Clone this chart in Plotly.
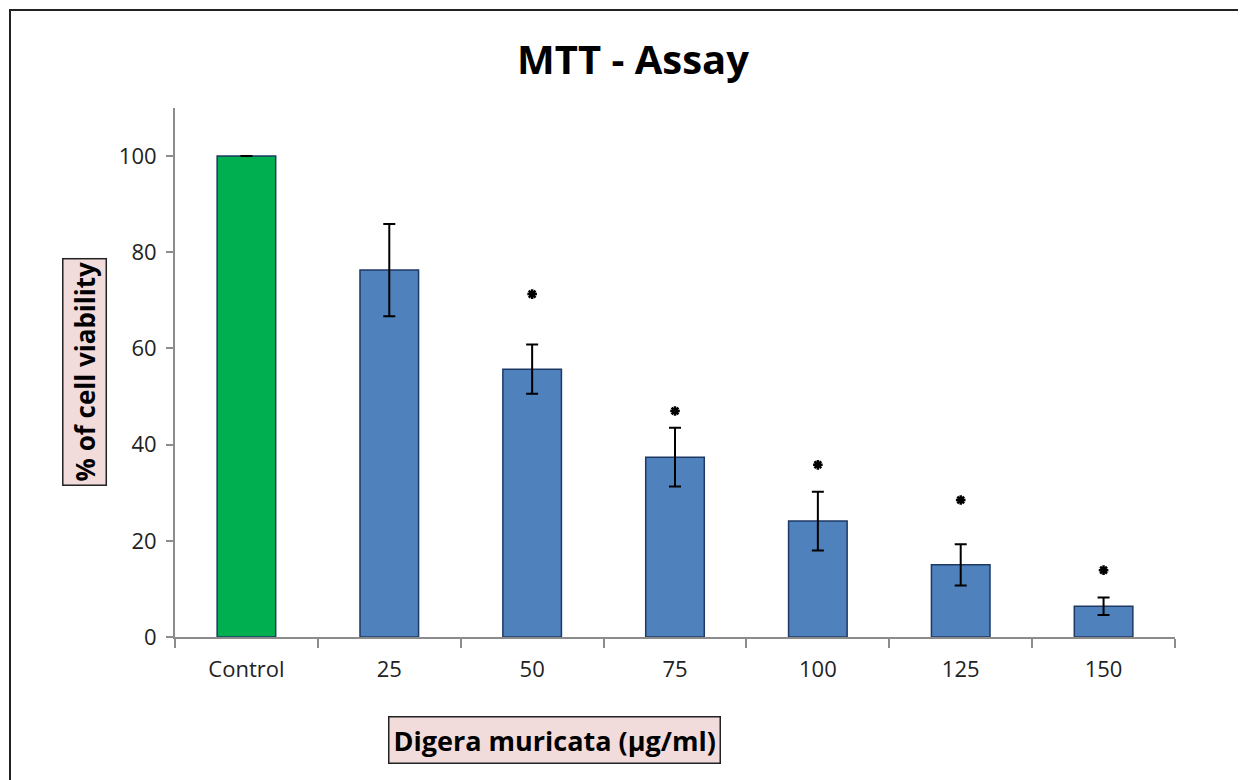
import plotly.graph_objects as go

categories = ["Control", "25", "50", "75", "100", "125", "150"]
viability = [100, 76.3, 55.7, 37.4, 24.1, 15.0, 6.4]
errors = [0, 9.6, 5.1, 6.1, 6.1, 4.3, 1.8]
bar_colors = ["#00B050", "#4F81BD", "#4F81BD", "#4F81BD", "#4F81BD", "#4F81BD", "#4F81BD"]
star_categories = ["50", "75", "100", "125", "150"]
star_positions = [71.3, 47.0, 35.8, 28.5, 13.9]
y_ticks = [0, 20, 40, 60, 80, 100]

fig = go.Figure()
fig.add_trace(go.Bar(
    x=categories, y=viability,
    marker=dict(color=bar_colors, line=dict(color="#1F3864", width=1.5)),
    error_y=dict(type="data", array=errors, visible=True, color="black", thickness=2, width=6),
    width=0.41,
))
fig.add_trace(go.Scatter(
    x=star_categories, y=star_positions, mode="markers",
    marker=dict(symbol="asterisk-open", size=8, color="black", line=dict(width=2.5, color="black")),
))

fig.update_layout(
    width=1238, height=772,
    margin=dict(l=167, r=71, t=100, b=143),
    plot_bgcolor="white", paper_bgcolor="white",
    showlegend=False,
    font=dict(family="Open Sans, Liberation Sans, sans-serif", color="#222222"),
    xaxis=dict(
        type="category", showline=True, linecolor="#8C8C8C", linewidth=2,
        ticks="outside", tickson="boundaries", ticklen=9, tickcolor="#8C8C8C", tickwidth=2,
        tickfont=dict(size=22, color="#222222"), showgrid=False, zeroline=False,
        ticklabelstandoff=12,
    ),
    yaxis=dict(
        range=[0, 110], tickvals=y_ticks, showline=True, linecolor="#8C8C8C", linewidth=2,
        ticks="outside", ticklen=7, tickcolor="#8C8C8C", tickwidth=2,
        tickfont=dict(size=22, color="#222222"), showgrid=False, zeroline=False,
        ticklabelstandoff=5,
    ),
    shapes=[dict(type="rect", xref="paper", yref="paper", x0=-0.165, x1=1.08, y0=-0.3, y1=1.1853,
                 line=dict(color="#222222", width=2), fillcolor="rgba(0,0,0,0)", layer="below")],
    annotations=[
        dict(text="<b>MTT - Assay</b>", xref="paper", yref="paper", x=0.458, y=1.093,
             showarrow=False, font=dict(size=40, color="black"),
             xanchor="center", yanchor="middle"),
        dict(text="<b>% of cell viability</b>", xref="paper", yref="paper", x=-0.09, y=0.501,
             showarrow=False, textangle=-90, bgcolor="#F2DCDB", bordercolor="#222222", borderwidth=1.5,
             borderpad=3, font=dict(size=26, color="black"), xanchor="center", yanchor="middle"),
        dict(text="<b>Digera muricata (µg/ml)</b>", xref="paper", yref="paper", x=0.379, y=-0.195,
             showarrow=False, bgcolor="#F2DCDB", bordercolor="#222222", borderwidth=1.5,
             borderpad=4, font=dict(size=27, color="black"), xanchor="center", yanchor="middle"),
    ],
)

fig.write_html("out.html")
